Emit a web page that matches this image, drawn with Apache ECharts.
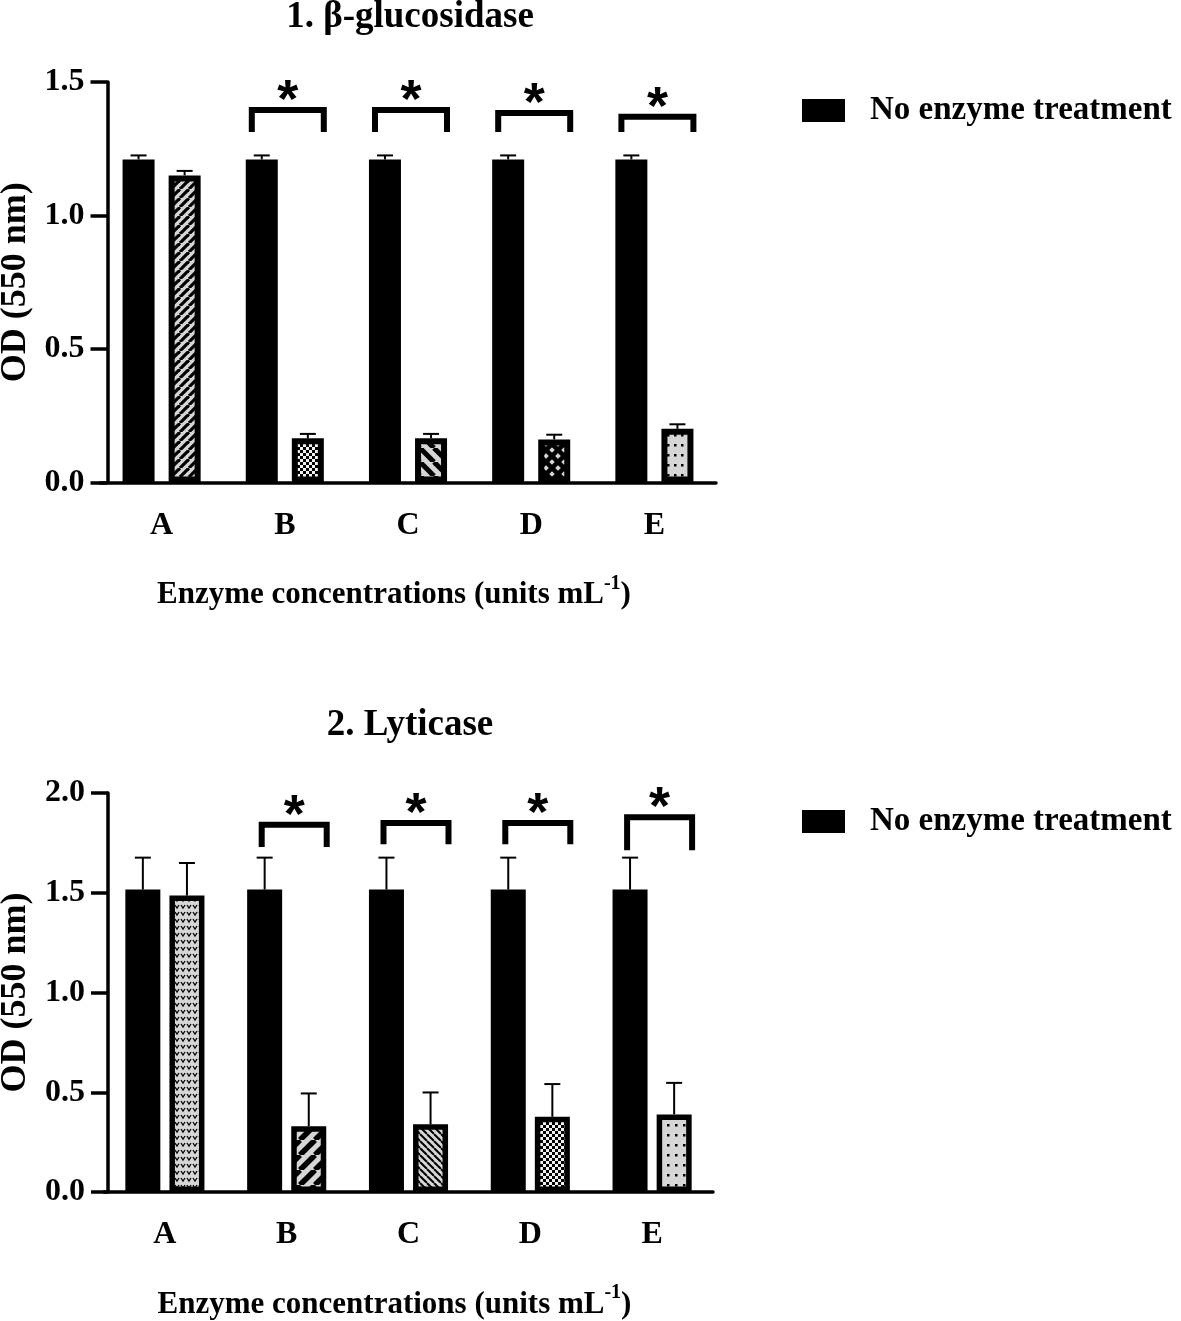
<!DOCTYPE html>
<html>
<head>
<meta charset="utf-8">
<script src="https://cdn.jsdelivr.net/npm/echarts@6/dist/echarts.min.js"></script>
<style>
html,body{margin:0;padding:0;background:#fff;}
#chart{width:1181px;height:1321px;}
</style>
</head>
<body>
<div id="chart"></div>
<script>
// ---------------- data ----------------
const categories = ['A', 'B', 'C', 'D', 'E'];
const yTicks1 = [0, 0.5, 1.0, 1.5];
const yTicks2 = [0, 0.5, 1.0, 1.5, 2.0];

// 1. beta-glucosidase
const glucoControl = [1.21, 1.21, 1.21, 1.21, 1.21];
const glucoControlErr = [0.015, 0.015, 0.015, 0.015, 0.015];
const glucoTreated = [1.15, 0.166, 0.166, 0.161, 0.201];
const glucoTreatedErr = [0.017, 0.016, 0.016, 0.018, 0.017];
const glucoSigCats = [1, 2, 3, 4];
const glucoSigTop = [1.395, 1.395, 1.384, 1.370];
const glucoSigBottom = [1.3125, 1.3125, 1.3125, 1.3125];

// 2. Lyticase
const lytiControl = [1.516, 1.516, 1.516, 1.516, 1.516];
const lytiControlErr = [0.16, 0.16, 0.16, 0.16, 0.16];
const lytiTreated = [1.486, 0.330, 0.339, 0.377, 0.389];
const lytiTreatedErr = [0.163, 0.164, 0.160, 0.164, 0.158];
const lytiSigCats = [1, 2, 3, 4];
const lytiSigTop = [1.841, 1.849, 1.849, 1.879];
const lytiSigBottom = [1.729, 1.743, 1.743, 1.713];

const legendName = 'No enzyme treatment';

// ---------------- patterns ----------------
const GRAY = '#d6d6d6';
function makeTile(w, h, draw) {
  const c = document.createElement('canvas');
  c.width = w; c.height = h;
  const ctx = c.getContext('2d');
  ctx.fillStyle = GRAY; ctx.fillRect(0, 0, w, h);
  ctx.strokeStyle = '#000'; ctx.fillStyle = '#000';
  draw(ctx, w, h);
  return { image: c, repeat: 'repeat' };
}
function diag(size, lw, dir) {
  return makeTile(size, size, (ctx) => {
    ctx.lineWidth = lw;
    for (let k = -1; k <= 1; k++) {
      ctx.beginPath();
      if (dir === '/') { ctx.moveTo(k * size, size); ctx.lineTo(k * size + size, 0); }
      else { ctx.moveTo(k * size, 0); ctx.lineTo(k * size + size, size); }
      ctx.stroke();
    }
  });
}
function cross(size, lw) {
  return makeTile(size, size, (ctx) => {
    ctx.lineWidth = lw;
    for (let k = -1; k <= 1; k++) {
      ctx.beginPath(); ctx.moveTo(k * size, size); ctx.lineTo(k * size + size, 0); ctx.stroke();
      ctx.beginPath(); ctx.moveTo(k * size, 0); ctx.lineTo(k * size + size, size); ctx.stroke();
    }
  });
}
function checker(cell) {
  return makeTile(cell * 2, cell * 2, (ctx) => {
    ctx.fillStyle = '#f2f2f2';
    ctx.fillRect(0, 0, cell * 2, cell * 2);
    ctx.fillStyle = '#000';
    ctx.fillRect(0, 0, cell, cell);
    ctx.fillRect(cell, cell, cell, cell);
  });
}
function dots(w, h, d) {
  return makeTile(w, h, (ctx) => { ctx.fillRect(Math.round(w / 2 - d / 2), Math.round(h / 2 - d / 2), d, d); });
}
function vees(w, h) {
  return makeTile(w, h, (ctx) => {
    ctx.lineWidth = 1.3;
    ctx.beginPath(); ctx.moveTo(1, 2); ctx.lineTo(3, 5); ctx.lineTo(5, 2); ctx.stroke();
  });
}
const glucoPatterns = [diag(9, 3.2, '/'), checker(3), diag(14, 5, '\\'), cross(12, 4.5), dots(7, 10, 2.5)];
const lytiPatterns = [vees(6, 7), diag(15, 5.5, '/'), diag(7, 2, '\\'), checker(3), dots(8, 10, 2.5)];

// ---------------- styling constants ----------------
const FONT = 'Liberation Serif';
const P1 = { barW: 32, border: 6, gap: 0.44, brL: 33, brR: 39 };
const P2 = { barW: 35, border: 5.5, gap: 0.26, brL: 25, brR: 40 };

function errData(vals, errs, side) {
  return vals.map((v, i) => [i, v, errs[i], side]);
}
function sigData(cats, tops, bottoms) {
  return cats.map((c, i) => [c, tops[i], bottoms[i]]);
}
function errRender(P) {
  const off = P.barW * (1 + P.gap) / 2;
  return function (params, api) {
    const idx = api.value(0), v = api.value(1), e = api.value(2), side = api.value(3);
    const p0 = api.coord([idx, v]);
    const p1 = api.coord([idx, v + e]);
    const x = p0[0] + side * off;
    const st = { stroke: '#000', lineWidth: 2 };
    return {
      type: 'group',
      children: [
        { type: 'line', shape: { x1: x, y1: p0[1], x2: x, y2: p1[1] }, style: st },
        { type: 'line', shape: { x1: x - 8, y1: p1[1], x2: x + 8, y2: p1[1] }, style: st }
      ]
    };
  };
}
function sigRender(P) {
  return function (params, api) {
    const c = api.value(0);
    const pt = api.coord([c, api.value(1)]);
    const pb = api.coord([c, api.value(2)]);
    const x1 = pt[0] - P.brL, x2 = pt[0] + P.brR;
    return {
      type: 'group',
      children: [
        { type: 'polyline', shape: { points: [[x1, pb[1]], [x1, pt[1]], [x2, pt[1]], [x2, pb[1]]] },
          style: { stroke: '#000', lineWidth: 6, fill: null, lineJoin: 'miter', lineCap: 'butt' } },
        { type: 'text', x: (x1 + x2) / 2, y: pt[1] - 8,
          style: { text: '*', fill: '#000', font: 'bold 54px "Liberation Sans"', align: 'center', verticalAlign: 'middle', textAlign: 'center', textVerticalAlign: 'middle' } }
      ]
    };
  };
}

function xAxis(gi) {
  return {
    type: 'category', gridIndex: gi, data: categories,
    axisLine: { lineStyle: { color: '#000', width: 3.5 } },
    axisTick: { alignWithLabel: true, length: 15, lineStyle: { color: '#000', width: 3.5 } },
    axisLabel: { color: '#000', fontFamily: FONT, fontWeight: 'bold', fontSize: 32, margin: 27 },
    name: '{a|Enzyme concentrations (units mL}{b|-1}{a|)}',
    nameLocation: 'middle', nameGap: 97,
    nameTextStyle: {
      color: '#000', padding: [0, 28, 0, 0],
      rich: {
        a: { fontFamily: FONT, fontWeight: 'bold', fontSize: 31, lineHeight: 31, verticalAlign: 'bottom', color: '#000' },
        b: { fontFamily: FONT, fontWeight: 'bold', fontSize: 20, lineHeight: 20, padding: [0, 0, 17, 0], verticalAlign: 'bottom', color: '#000' }
      }
    },
    splitLine: { show: false }
  };
}
function yAxis(gi, max, off) {
  return {
    type: 'value', gridIndex: gi, min: 0, max: max, interval: 0.5, offset: off,
    axisLine: { show: true, lineStyle: { color: '#000', width: 3.5 } },
    axisTick: { show: true, length: 17, lineStyle: { color: '#000', width: 3.5 } },
    axisLabel: { color: '#000', fontFamily: FONT, fontWeight: 'bold', fontSize: 32, margin: 23,
      formatter: (v) => v.toFixed(1) },
    splitLine: { show: false },
    name: 'OD (550 nm)', nameLocation: 'middle', nameGap: 71, nameRotate: 90,
    nameTextStyle: { color: '#000', fontFamily: FONT, fontWeight: 'bold', fontSize: 36 }
  };
}

const option = {
  backgroundColor: '#fff',
  animation: false,
  graphic: [
    { type: 'text', x: 410, y: 17, style: { text: '1. β-glucosidase', fill: '#000', font: 'bold 37px "Liberation Serif"', align: 'center', verticalAlign: 'middle', textAlign: 'center', textVerticalAlign: 'middle' } },
    { type: 'text', x: 410, y: 725, style: { text: '2. Lyticase', fill: '#000', font: 'bold 37px "Liberation Serif"', align: 'center', verticalAlign: 'middle', textAlign: 'center', textVerticalAlign: 'middle' } }
  ],
  legend: [
    { left: 802, top: 94, padding: 0, itemWidth: 43, itemHeight: 23, icon: 'rect', data: [legendName],
      itemStyle: { borderWidth: 0, color: '#000' },
      textStyle: { color: '#000', fontFamily: FONT, fontWeight: 'bold', fontSize: 33, padding: [0, 0, 0, 20] } },
    { left: 802, top: 805, padding: 0, itemWidth: 43, itemHeight: 23, icon: 'rect', data: [legendName],
      itemStyle: { borderWidth: 0, color: '#000' },
      textStyle: { color: '#000', fontFamily: FONT, fontWeight: 'bold', fontSize: 33, padding: [0, 0, 0, 20] } }
  ],
  grid: [
    { left: 100, top: 82, width: 616, height: 400.5, containLabel: false, outerBoundsMode: 'none' },
    { left: 104, top: 793, width: 609, height: 399, containLabel: false, outerBoundsMode: 'none' }
  ],
  xAxis: [xAxis(0), xAxis(1)],
  yAxis: [yAxis(0, 1.5, -7.5), yAxis(1, 2.0, -4)],
  series: [
    { type: 'bar', name: legendName, xAxisIndex: 0, yAxisIndex: 0, data: glucoControl,
      barWidth: P1.barW, barGap: (P1.gap * 100) + '%',
      itemStyle: { color: '#000', borderColor: '#000', borderWidth: P1.border } },
    { type: 'bar', name: 'Enzyme treatment 1', xAxisIndex: 0, yAxisIndex: 0,
      data: glucoTreated.map((v, i) => ({ value: v, itemStyle: { color: glucoPatterns[i] } })),
      barWidth: P1.barW, barGap: (P1.gap * 100) + '%',
      itemStyle: { borderColor: '#000', borderWidth: P1.border } },
    { type: 'custom', xAxisIndex: 0, yAxisIndex: 0, renderItem: errRender(P1), z: 5,
      data: errData(glucoControl, glucoControlErr, -1).concat(errData(glucoTreated, glucoTreatedErr, 1)) },
    { type: 'custom', xAxisIndex: 0, yAxisIndex: 0, renderItem: sigRender(P1), z: 5, clip: false,
      data: sigData(glucoSigCats, glucoSigTop, glucoSigBottom) },

    { type: 'bar', name: legendName, xAxisIndex: 1, yAxisIndex: 1, data: lytiControl,
      barWidth: P2.barW, barGap: (P2.gap * 100) + '%',
      itemStyle: { color: '#000', borderColor: '#000', borderWidth: P2.border } },
    { type: 'bar', name: 'Enzyme treatment 2', xAxisIndex: 1, yAxisIndex: 1,
      data: lytiTreated.map((v, i) => ({ value: v, itemStyle: { color: lytiPatterns[i] } })),
      barWidth: P2.barW, barGap: (P2.gap * 100) + '%',
      itemStyle: { borderColor: '#000', borderWidth: P2.border } },
    { type: 'custom', xAxisIndex: 1, yAxisIndex: 1, renderItem: errRender(P2), z: 5,
      data: errData(lytiControl, lytiControlErr, -1).concat(errData(lytiTreated, lytiTreatedErr, 1)) },
    { type: 'custom', xAxisIndex: 1, yAxisIndex: 1, renderItem: sigRender(P2), z: 5, clip: false,
      data: sigData(lytiSigCats, lytiSigTop, lytiSigBottom) }
  ]
};

const chart = echarts.init(document.getElementById('chart'), null, { renderer: 'canvas' });
chart.setOption(option);
</script>
</body>
</html>
